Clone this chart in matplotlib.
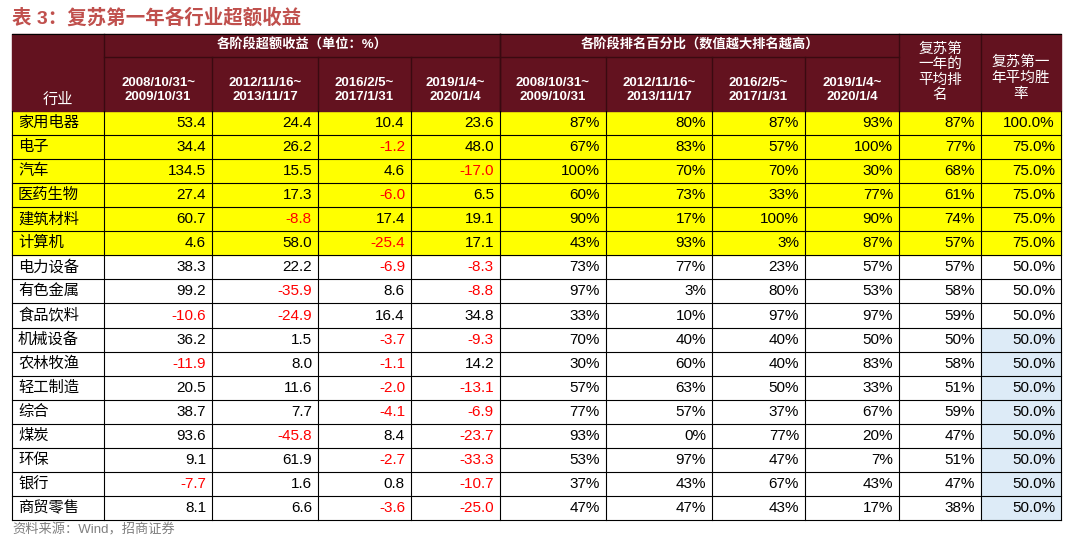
import matplotlib.pyplot as plt
from matplotlib.patches import Rectangle

plt.rcParams['font.family'] = ['Liberation Sans', 'Noto Sans CJK SC']

industries = ['家用电器', '电子', '汽车', '医药生物', '建筑材料', '计算机', '电力设备', '有色金属',
              '食品饮料', '机械设备', '农林牧渔', '轻工制造', '综合', '煤炭', '环保', '银行', '商贸零售']
periods = ['2008/10/31~\n2009/10/31', '2012/11/16~\n2013/11/17', '2016/2/5~\n2017/1/31', '2019/1/4~\n2020/1/4']
ret_2008 = [53.4, 34.4, 134.5, 27.4, 60.7, 4.6, 38.3, 99.2, -10.6, 36.2, -11.9, 20.5, 38.7, 93.6, 9.1, -7.7, 8.1]
ret_2012 = [24.4, 26.2, 15.5, 17.3, -8.8, 58.0, 22.2, -35.9, -24.9, 1.5, 8.0, 11.6, 7.7, -45.8, 61.9, 1.6, 6.6]
ret_2016 = [10.4, -1.2, 4.6, -6.0, 17.4, -25.4, -6.9, 8.6, 16.4, -3.7, -1.1, -2.0, -4.1, 8.4, -2.7, 0.8, -3.6]
ret_2019 = [23.6, 48.0, -17.0, 6.5, 19.1, 17.1, -8.3, -8.8, 34.8, -9.3, 14.2, -13.1, -6.9, -23.7, -33.3, -10.7, -25.0]
rank_2008 = [87, 67, 100, 60, 90, 43, 73, 97, 33, 70, 30, 57, 77, 93, 53, 37, 47]
rank_2012 = [80, 83, 70, 73, 17, 93, 77, 3, 10, 40, 60, 63, 57, 0, 97, 43, 47]
rank_2016 = [87, 57, 70, 33, 100, 3, 23, 80, 97, 40, 40, 50, 37, 77, 47, 67, 43]
rank_2019 = [93, 100, 30, 77, 90, 87, 57, 53, 97, 50, 83, 33, 67, 20, 7, 43, 17]
avg_rank = [87, 77, 68, 61, 74, 57, 57, 58, 59, 50, 58, 51, 59, 47, 51, 47, 38]
win_rate = [100.0, 75.0, 75.0, 75.0, 75.0, 75.0, 50.0, 50.0, 50.0, 50.0, 50.0, 50.0, 50.0, 50.0, 50.0, 50.0, 50.0]

W, H = 1080, 539
fig = plt.figure(figsize=(W / 100, H / 100), dpi=100)
ax = fig.add_axes([0, 0, 1, 1])
ax.set_xlim(0, W)
ax.set_ylim(H, 0)
ax.axis('off')

maroon = '#63121f'
cols = [12, 104, 212, 318, 411, 500, 606, 712, 805, 899, 981, 1061]
top, mid, hbot = 34, 57, 111
rh = (520 - hbot) / len(industries)

ax.text(12, 18, '表 3：复苏第一年各行业超额收益', color='#c0504d', fontsize=14,
        fontweight='bold', va='center', ha='left')

# header
ax.add_patch(Rectangle((cols[0], top), cols[-1] - cols[0], hbot - top, color=maroon))
hw = dict(color='white', fontsize=9.5, fontweight='bold', va='center', ha='center')
ax.text((cols[1] + cols[5]) / 2, (top + mid) / 2, '各阶段超额收益（单位：%）', **hw)
ax.text((cols[5] + cols[9]) / 2, (top + mid) / 2, '各阶段排名百分比（数值越大排名越高）', **hw)
ax.text((cols[0] + cols[1]) / 2, 100, '行业', color='white', fontsize=11, va='center', ha='center')
for k in range(8):
    ax.text((cols[k + 1] + cols[k + 2]) / 2, 90, periods[k % 4], **hw)
ax.text((cols[9] + cols[10]) / 2, 72, '复苏第\n一年的\n平均排\n名', color='white', fontsize=10.5,
        va='center', ha='center', linespacing=1.15)
ax.text((cols[10] + cols[11]) / 2, 78, '复苏第一\n年平均胜\n率', color='white', fontsize=10.5,
        va='center', ha='center', linespacing=1.2)
lc = '#3a0a10'
ax.plot([cols[1], cols[9]], [mid, mid], color=lc, lw=1)
ax.plot([cols[5], cols[5]], [top, hbot], color=lc, lw=1)
for x in cols[1:-1]:
    ax.plot([x, x], [mid if x not in (cols[1], cols[5], cols[9], cols[10]) else top, hbot], color=lc, lw=1)

# body
for i, name in enumerate(industries):
    y0 = hbot + i * rh
    yc = y0 + rh / 2
    if i < 6:
        ax.add_patch(Rectangle((cols[0], y0), cols[-1] - cols[0], rh, color='#ffff00', zorder=0))
    if i >= 9:
        ax.add_patch(Rectangle((cols[10], y0), cols[11] - cols[10], rh, color='#ddebf7', zorder=0))
    ax.text(cols[0] + 6, yc, name, fontsize=11, va='center', ha='left', color='black')
    rets = [ret_2008[i], ret_2012[i], ret_2016[i], ret_2019[i]]
    for k, v in enumerate(rets):
        ax.text(cols[k + 2] - 6, yc, f'{v:.1f}', fontsize=11, va='center', ha='right',
                color='red' if v < 0 else 'black')
    ranks = [rank_2008[i], rank_2012[i], rank_2016[i], rank_2019[i], avg_rank[i]]
    for k, v in enumerate(ranks):
        ax.text(cols[k + 6] - 6, yc, f'{v}%', fontsize=11, va='center', ha='right')
    ax.text(cols[11] - 6, yc, f'{win_rate[i]:.1f}%', fontsize=11, va='center', ha='right')
    ax.plot([cols[0], cols[-1]], [y0 + rh, y0 + rh], color='black', lw=0.8)

bot = hbot + len(industries) * rh
for x in cols:
    ax.plot([x, x], [hbot, bot], color='black', lw=0.8)
ax.plot([cols[0], cols[-1]], [top, top], color='black', lw=0.8)

ax.text(12, 530, '资料来源：Wind，招商证券', fontsize=9.5, color='#808080', va='center', ha='left')

fig.savefig('out.png', dpi=100)
